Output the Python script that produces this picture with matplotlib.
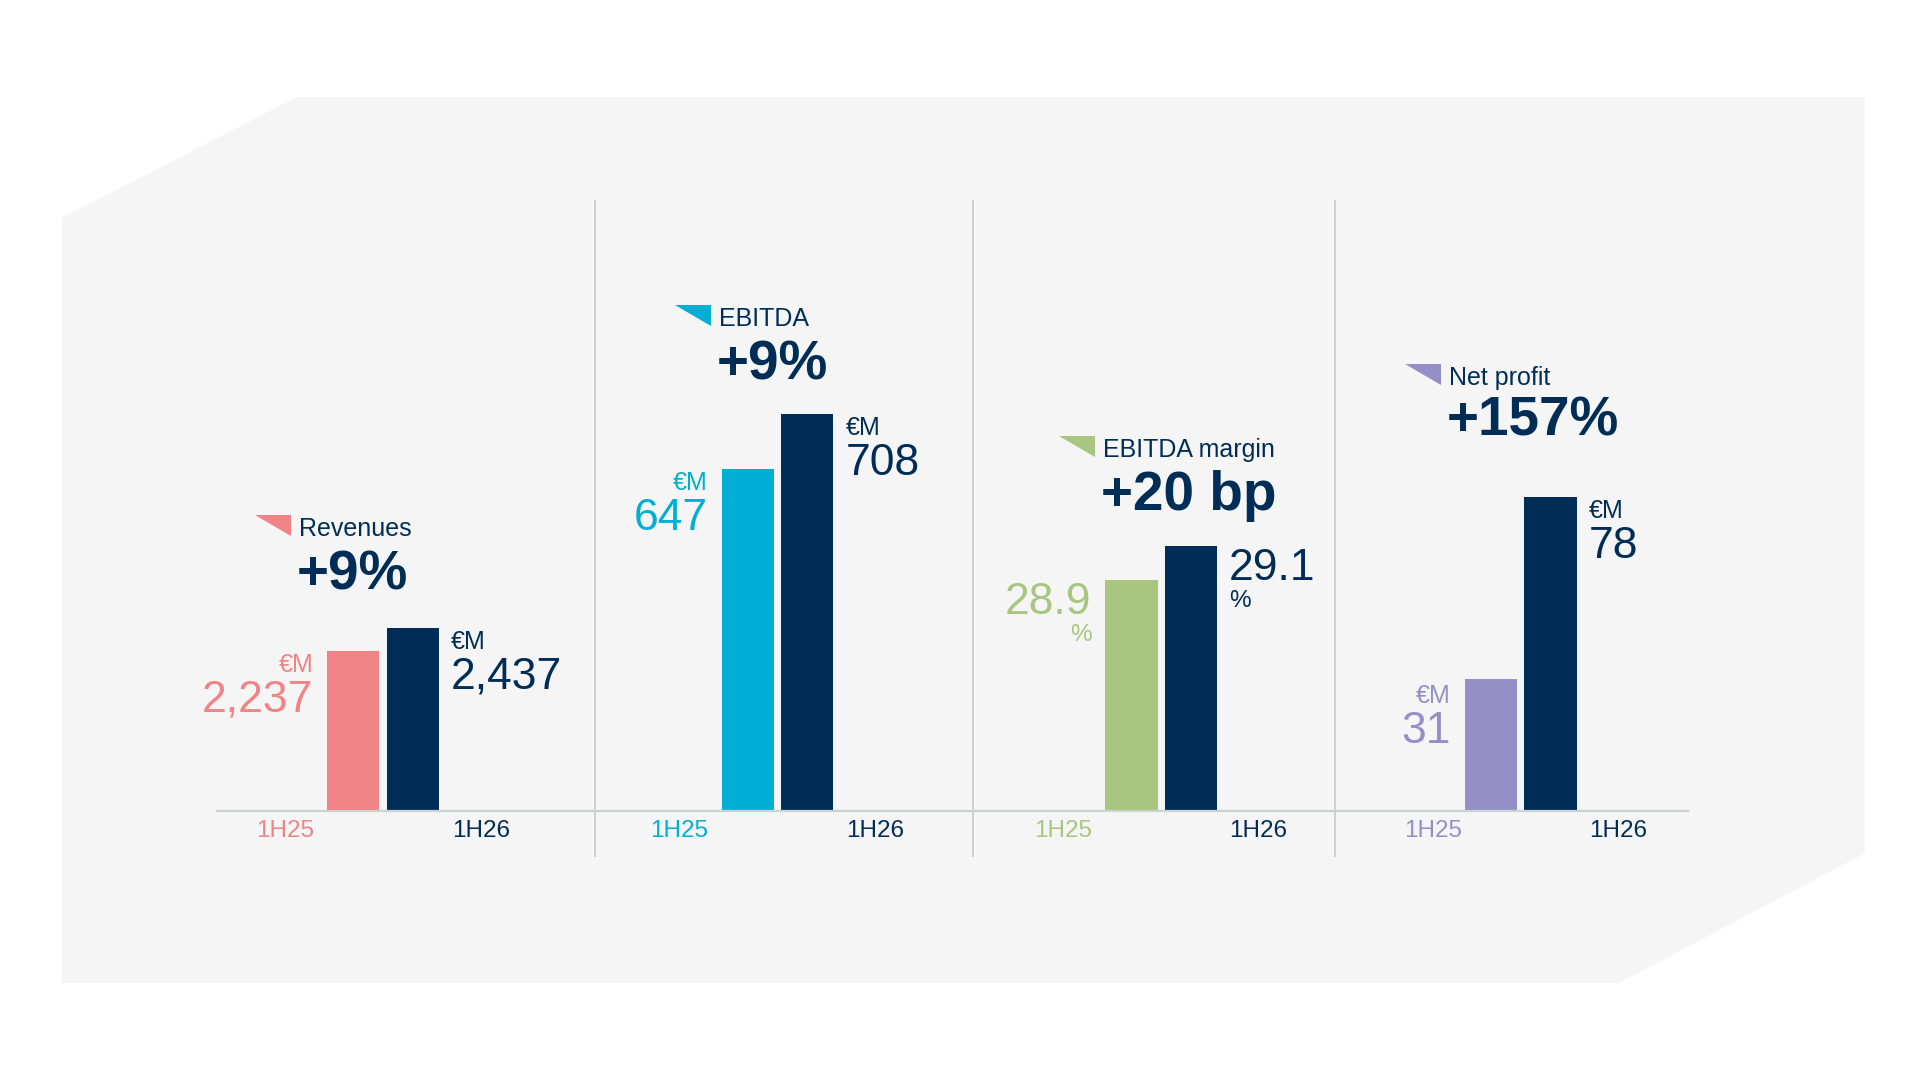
import matplotlib
matplotlib.use("Agg")
import matplotlib.pyplot as plt
from matplotlib.patches import Polygon
from matplotlib.lines import Line2D

# ---------------- data ----------------
categories = ["Revenues", "EBITDA", "EBITDA margin", "Net profit"]
changes = ["+9%", "+9%", "+20 bp", "+157%"]
periods = ["1H25", "1H26"]
values_1h25 = [2237, 647, 28.9, 31]
values_1h26 = [2437, 708, 29.1, 78]
labels_1h25 = ["2,237", "647", "28.9", "31"]
labels_1h26 = ["2,437", "708", "29.1", "78"]
units = ["€M", "€M", "%", "€M"]

# ---------------- style ----------------
NAVY = "#002d56"
colors = ["#f08385", "#00afd3", "#a8c67f", "#948fc6"]
LINE = "#c8d3d2"
BG = "#f5f5f5"
plt.rcParams["font.family"] = ["Liberation Sans", "DejaVu Sans"]

W, H = 1920, 1080
def fx(x):
    return x / W
def fy(y):
    return 1 - y / H

fig = plt.figure(figsize=(19.2, 10.8), dpi=100)
fig.patch.set_facecolor("white")

# background shape
bg_pts = [(62, 218), (297, 97), (1865, 97), (1865, 853), (1619, 983), (62, 983)]
fig.add_artist(Polygon([(fx(x), fy(y)) for x, y in bg_pts], closed=True,
                       transform=fig.transFigure, facecolor=BG, edgecolor="none", zorder=0))

# layout (pixels)
baseline_y = 810.7
axes_top = 200.0
pitch = 59.5
bar_w = 0.879
pair_mid = [383.0, 777.5, 1161.3, 1520.75]
y_floor = [848.3, 265.9, 27.517, -2.95]
px_per_unit = [0.115, 0.8967, 167.0, 3.879]
tick_pos = [(-1.145, 2.145), (-1.157, 2.137), (-1.146, 2.13), (-0.968, 2.14)]
lab1_dy = [2, 2, 2, 5]
num_dy = [29, 29, 2, 32]
unit_dy_margin = 44
head_x = [299, 719, 1103, 1449]
head_label_y = [517, 306.5, 438, 366]
head_big_y = [550, 339, 470, 395]
NUM_SIZE = 32

PT = 0.72  # points per pixel at 100 dpi

# baseline + dividers
fig.add_artist(Line2D([fx(217), fx(1688)], [fy(baseline_y)] * 2, transform=fig.transFigure,
                      color=LINE, lw=1.6, zorder=1))
for dx in [595, 972.7, 1335]:
    fig.add_artist(Line2D([fx(dx)] * 2, [fy(201), fy(856)], transform=fig.transFigure,
                          color=LINE, lw=1.4, zorder=1))

for i in range(4):
    ax_h = baseline_y - axes_top
    left = pair_mid[i] - 2.5 * pitch
    ax = fig.add_axes([fx(left), fy(baseline_y), (5 * pitch) / W, ax_h / H])
    ax.set_facecolor("none")
    for s in ax.spines.values():
        s.set_visible(False)
    ax.set_xlim(-2, 3)
    ax.set_ylim(y_floor[i], y_floor[i] + ax_h / px_per_unit[i])
    ax.set_yticks([])
    vals = [values_1h25[i], values_1h26[i]]
    ax.bar([0, 1], [v - y_floor[i] for v in vals], bottom=y_floor[i], width=bar_w,
           color=[colors[i], NAVY], zorder=3)
    ax.set_xticks(list(tick_pos[i]))
    ax.set_xticklabels(periods, fontsize=17.5)
    tl = ax.get_xticklabels()
    tl[0].set_color(colors[i])
    tl[1].set_color(NAVY)
    ax.tick_params(axis="x", length=0, pad=6.7)

    # value labels
    x0 = 0 - bar_w / 2
    x1 = 1 + bar_w / 2
    if units[i] == "%":
        ax.annotate(labels_1h25[i], (x0, vals[0]), xytext=(-14 * PT, -num_dy[i] * PT),
                    textcoords="offset points", ha="right", va="top",
                    fontsize=NUM_SIZE, color=colors[i], annotation_clip=False)
        ax.annotate(units[i], (x0, vals[0]), xytext=(-14 * PT, -unit_dy_margin * PT),
                    textcoords="offset points", ha="right", va="top",
                    fontsize=17.5, color=colors[i], annotation_clip=False)
        ax.annotate(labels_1h26[i], (x1, vals[1]), xytext=(12 * PT, -num_dy[i] * PT),
                    textcoords="offset points", ha="left", va="top",
                    fontsize=NUM_SIZE, color=NAVY, annotation_clip=False)
        ax.annotate(units[i], (x1, vals[1]), xytext=(12 * PT, -unit_dy_margin * PT),
                    textcoords="offset points", ha="left", va="top",
                    fontsize=17.5, color=NAVY, annotation_clip=False)
    else:
        ax.annotate(units[i], (x0, vals[0]), xytext=(-14 * PT, -lab1_dy[i] * PT),
                    textcoords="offset points", ha="right", va="top",
                    fontsize=18, color=colors[i], annotation_clip=False)
        ax.annotate(labels_1h25[i], (x0, vals[0]), xytext=(-14 * PT, -num_dy[i] * PT),
                    textcoords="offset points", ha="right", va="top",
                    fontsize=NUM_SIZE, color=colors[i], annotation_clip=False)
        ax.annotate(units[i], (x1, vals[1]), xytext=(12 * PT, -2 * PT),
                    textcoords="offset points", ha="left", va="top",
                    fontsize=18, color=NAVY, annotation_clip=False)
        ax.annotate(labels_1h26[i], (x1, vals[1]), xytext=(12 * PT, -29 * PT),
                    textcoords="offset points", ha="left", va="top",
                    fontsize=NUM_SIZE, color=NAVY, annotation_clip=False)

    # headline: triangle marker, label, change
    hx = head_x[i]
    ty = head_label_y[i] - 2
    tri = [(hx - 44, ty), (hx - 8, ty), (hx - 8, ty + 21)]
    fig.add_artist(Polygon([(fx(a), fy(b)) for a, b in tri], closed=True,
                           transform=fig.transFigure, facecolor=colors[i],
                           edgecolor="none", zorder=4))
    fig.text(fx(hx), fy(head_label_y[i]), categories[i], fontsize=18, color=NAVY,
             ha="left", va="top")
    fig.text(fx(hx - 2), fy(head_big_y[i]), changes[i], fontsize=39.5, color=NAVY,
             fontweight="bold", ha="left", va="top")

fig.savefig("out.png", dpi=100, facecolor="white")
